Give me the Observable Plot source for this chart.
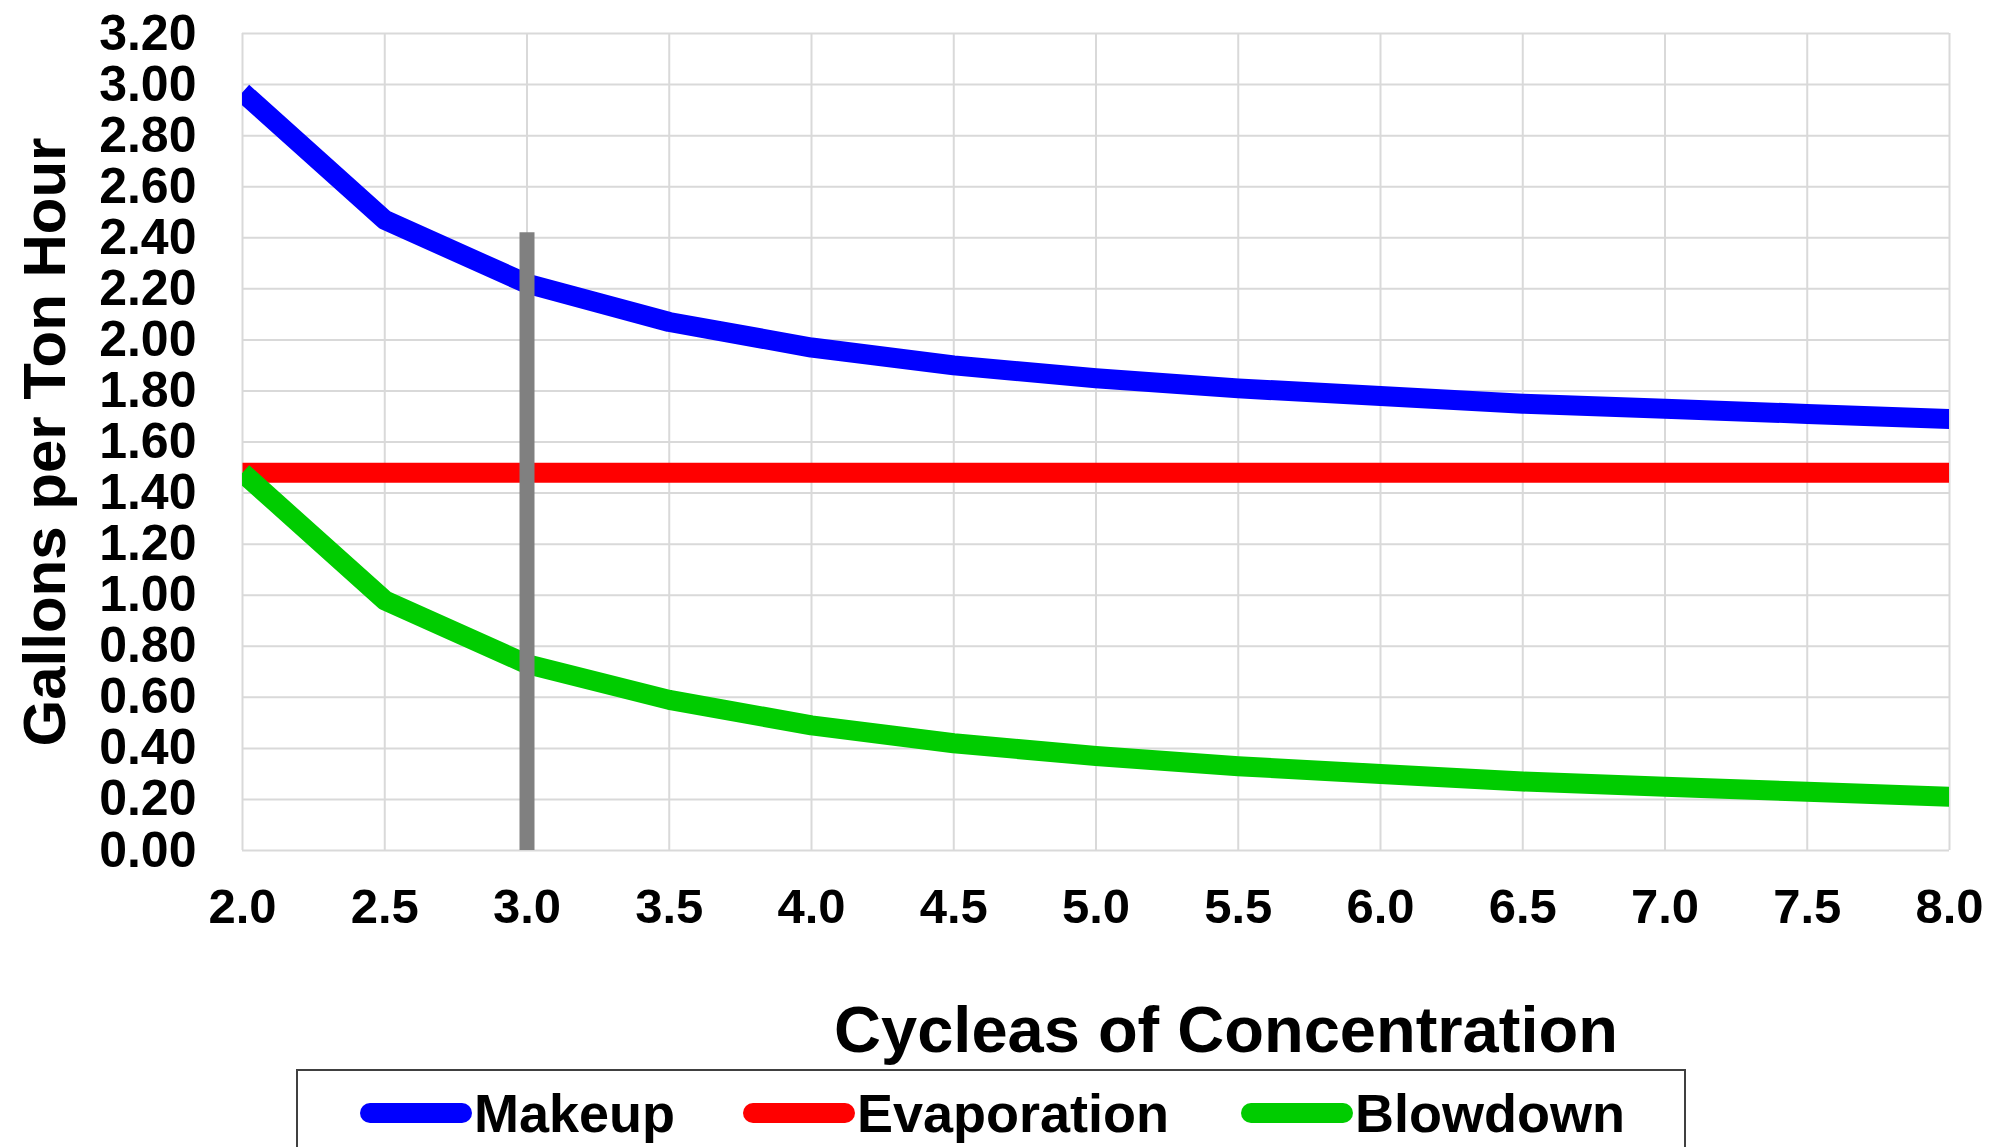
<!DOCTYPE html>
<html>
<head>
<meta charset="utf-8">
<script src="https://cdn.jsdelivr.net/npm/d3@7"></script>
<script src="https://cdn.jsdelivr.net/npm/@observablehq/plot@0.6"></script>
<style>
  html, body { margin: 0; padding: 0; background: #ffffff; }
  body { width: 1990px; height: 1147px; overflow: hidden; position: relative;
         font-family: "Liberation Sans", Arial, sans-serif; font-weight: bold; color: #000; }
  #chart { position: absolute; left: 0; top: 0; }
  #xtitle { position: absolute; left: 1226px; top: 997px; transform: translateX(-50%);
            font-size: 65px; line-height: 1; white-space: nowrap; }
  #legend { position: absolute; left: 296px; top: 1069px; width: 1390px; height: 140px;
            border: 2px solid #404040; box-sizing: border-box; }
  .item { position: absolute; top: 0; height: 84px; display: flex; align-items: center; }
  .sw { width: 112px; height: 20px; border-radius: 10px; margin-right: 2px; }
  .lab { font-size: 54px; line-height: 1; }
</style>
</head>
<body>
<div id="chart"></div>
<div id="xtitle"></div>
<div id="legend"></div>
<script>
// ---- data ----
const cycles      = [2.0, 2.5, 3.0, 3.5, 4.0, 4.5, 5.0, 5.5, 6.0, 6.5, 7.0, 7.5, 8.0];
const makeup      = [2.97, 2.47, 2.22, 2.07, 1.97, 1.90, 1.85, 1.81, 1.78, 1.75, 1.73, 1.71, 1.69];
const evaporation = [1.48, 1.48, 1.48, 1.48, 1.48, 1.48, 1.48, 1.48, 1.48, 1.48, 1.48, 1.48, 1.48];
const blowdown    = [1.48, 0.98, 0.73, 0.59, 0.49, 0.42, 0.37, 0.33, 0.30, 0.27, 0.25, 0.23, 0.21];
const seriesNames  = ["Makeup", "Evaporation", "Blowdown"];
const seriesColors = ["#0000ff", "#ff0000", "#00cc00"];
const markerCycle = [3.0];
const markerTop   = 2.42;
const xTicks = [2.0, 2.5, 3.0, 3.5, 4.0, 4.5, 5.0, 5.5, 6.0, 6.5, 7.0, 7.5, 8.0];
const yTicks = [0, 0.2, 0.4, 0.6, 0.8, 1.0, 1.2, 1.4, 1.6, 1.8, 2.0, 2.2, 2.4, 2.6, 2.8, 3.0, 3.2];
const xTitle = "Cycleas of Concentration";
const yTitle = "Gallons per Ton Hour";

const rows = cycles.map((c, i) => ({c, Makeup: makeup[i], Evaporation: evaporation[i], Blowdown: blowdown[i]}));

const lineOpts = {strokeWidth: 20, strokeLinejoin: "round", strokeLinecap: "butt", clip: true};

const chart = Plot.plot({
  width: 1990,
  height: 990,
  marginLeft: 242,
  marginRight: 41,
  marginTop: 33,
  marginBottom: 140,
  style: {fontFamily: "'Liberation Sans', Arial, sans-serif", fontWeight: "bold", color: "#000", background: "transparent", overflow: "visible"},
  x: {domain: [2, 8]},
  y: {domain: [0, 3.2]},
  marks: [
    Plot.gridX(xTicks, {stroke: "#d9d9d9", strokeOpacity: 1, strokeWidth: 2}),
    Plot.gridY(yTicks, {stroke: "#d9d9d9", strokeOpacity: 1, strokeWidth: 2}),
    ...seriesNames.map((s, k) => Plot.line(rows, {x: "c", y: s, stroke: seriesColors[k], ...lineOpts})),
    Plot.ruleX(markerCycle, {y1: 0, y2: markerTop, stroke: "#808080", strokeWidth: 15}),
    Plot.axisY(yTicks, {tickSize: 0, tickPadding: 46, tickFormat: d => d.toFixed(2), fontSize: 50, fontWeight: "bold", label: null}),
    Plot.axisX(xTicks, {tickSize: 0, tickPadding: 38, tickFormat: d => d.toFixed(1), fontSize: 49, fontWeight: "bold", label: null}),
    Plot.text([yTitle], {text: d => d, frameAnchor: "left", rotate: -90, dx: -197, fontSize: 60, fontWeight: "bold",
                         textAnchor: "middle", lineAnchor: "middle", fill: "#000"})
  ]
});
document.getElementById("chart").appendChild(chart);

document.getElementById("xtitle").textContent = xTitle;

// legend
const legend = document.getElementById("legend");
const itemLeft = [62, 445, 943];
seriesNames.forEach((s, k) => {
  const it = document.createElement("div");
  it.className = "item";
  it.style.left = itemLeft[k] + "px";
  const sw = document.createElement("div");
  sw.className = "sw";
  sw.style.background = seriesColors[k];
  const lab = document.createElement("span");
  lab.className = "lab";
  lab.textContent = s;
  it.appendChild(sw); it.appendChild(lab);
  legend.appendChild(it);
});
</script>
</body>
</html>
